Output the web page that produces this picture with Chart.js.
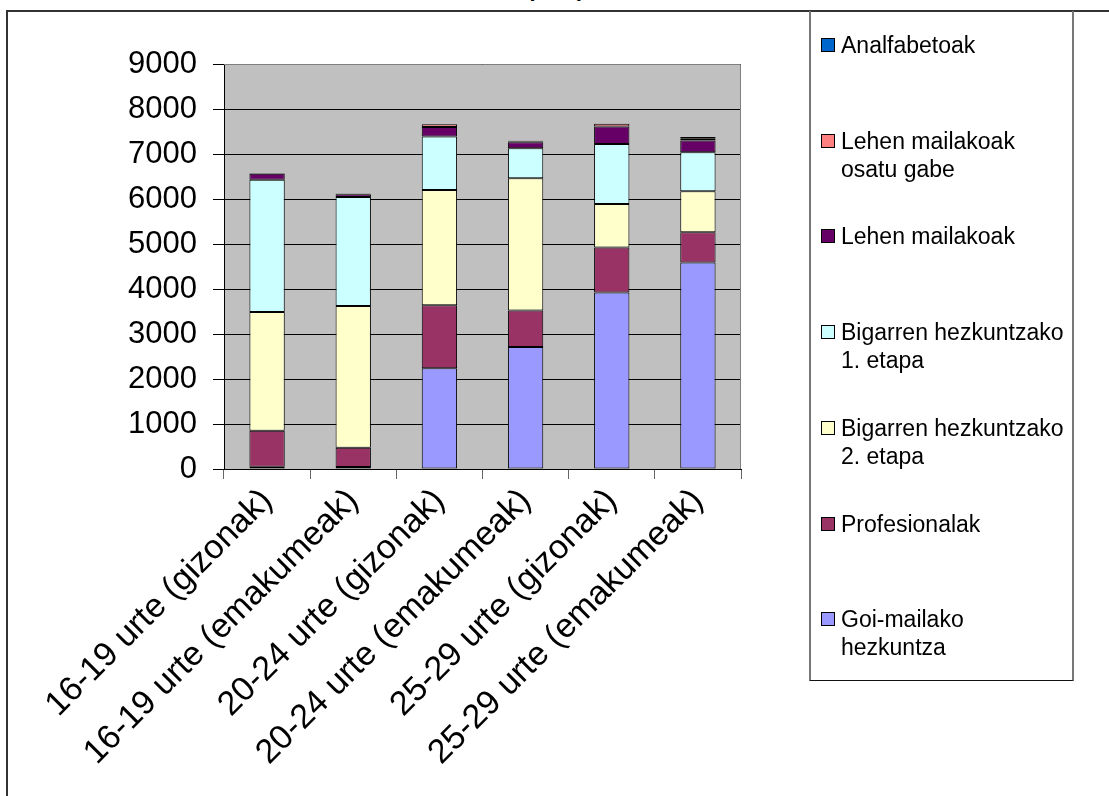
<!DOCTYPE html>
<html>
<head>
<meta charset="utf-8">
<script src="https://cdn.jsdelivr.net/npm/chart.js@4/dist/chart.umd.min.js"></script>
<style>
  html, body { margin: 0; padding: 0; background: #fff; }
  #wrap { position: relative; width: 1109px; height: 796px; overflow: hidden; font-family: "Liberation Sans", Arial, sans-serif; }
  #frame { position: absolute; left: 6px; top: 10px; width: 1200px; height: 900px; border-top: 2px solid #333; border-left: 2px solid #333; }
  #chart { position: absolute; left: 0; top: 0; }
  #title { position: absolute; top: -24px; left: 527px; font-weight: bold; font-size: 22px; white-space: pre; }
  #legend { position: absolute; left: 809px; top: 11px; width: 261px; height: 669px; border-left: 2px solid #777; border-right: 2px solid #777; border-bottom: 1px solid #111; }
  .item { position: absolute; left: 30px; font-size: 23px; line-height: 28px; white-space: pre-line; color: #000; }
  .swatch { position: absolute; left: -20px; top: 7px; width: 12px; height: 12px; border: 1px solid #000; }
</style>
</head>
<body>
<div id="wrap">
  <div id="title">(       )</div>
  <div id="frame"></div>
  <canvas id="chart" width="1109" height="796"></canvas>
  <div id="legend"></div>
</div>
<script>
// categories and stacked series
const categories = [
  "16-19 urte (gizonak)",
  "16-19 urte (emakumeak)",
  "20-24 urte (gizonak)",
  "20-24 urte (emakumeak)",
  "25-29 urte (gizonak)",
  "25-29 urte (emakumeak)"
]
const goiMailako     = [50, 45, 2240, 2710, 3920, 4590]
const profesionalak  = [800, 430, 1400, 810, 1000, 670]
const bigarren2      = [2640, 3150, 2560, 2940, 970, 910]
const bigarren1      = [2940, 2420, 1190, 670, 1330, 870]
const lehenMailakoak = [130, 60, 210, 130, 390, 260]
const lehenOsatuGabe = [10, 10, 60, 20, 60, 40]
const analfabetoak   = [0, 10, 0, 15, 0, 40]
const yTicks = [0, 1000, 2000, 3000, 4000, 5000, 6000, 7000, 8000, 9000]

// bottom of the stack first
const series = [
  { label: "Goi-mailako\nhezkuntza", data: goiMailako, color: "#9999ff" },
  { label: "Profesionalak", data: profesionalak, color: "#993366" },
  { label: "Bigarren hezkuntzako\n2. etapa", data: bigarren2, color: "#ffffcc" },
  { label: "Bigarren hezkuntzako\n1. etapa", data: bigarren1, color: "#ccffff" },
  { label: "Lehen mailakoak", data: lehenMailakoak, color: "#660066" },
  { label: "Lehen mailakoak\nosatu gabe", data: lehenOsatuGabe, color: "#ff8080" },
  { label: "Analfabetoak", data: analfabetoak, color: "#0066cc" }
]

// grey plot background + grey frame on top/right
const plotBackground = {
  id: "plotBackground",
  beforeDraw(chart) {
    const { ctx, chartArea: a } = chart
    ctx.save()
    ctx.fillStyle = "#c0c0c0"
    ctx.fillRect(a.left, a.top, a.width, a.height)
    ctx.restore()
  },
  beforeDatasetsDraw(chart) {
    const { ctx, chartArea: a } = chart
    ctx.save()
    ctx.strokeStyle = "#808080"
    ctx.lineWidth = 1
    ctx.beginPath()
    ctx.moveTo(a.left, a.top + 0.5)
    ctx.lineTo(a.right - 0.5, a.top + 0.5)
    ctx.lineTo(a.right - 0.5, a.bottom)
    ctx.stroke()
    ctx.restore()
  }
}

Chart.defaults.font.family = "'Liberation Sans', Arial, sans-serif"
Chart.defaults.color = "#000"

const chart = new Chart(document.getElementById("chart"), {
  type: "bar",
  data: {
    labels: categories,
    datasets: series.map(s => ({
      label: s.label,
      data: s.data,
      backgroundColor: s.color,
      borderColor: "#000",
      borderWidth: 1,
      borderSkipped: false,
      categoryPercentage: 1,
      barPercentage: 0.41
    }))
  },
  options: {
    responsive: false,
    animation: false,
    layout: { padding: { top: 64, right: 368, left: 0, bottom: 0 } },
    plugins: {
      legend: { display: false },
      title: { display: false },
      tooltip: { enabled: false }
    },
    scales: {
      x: {
        stacked: true,
        afterFit(axis) { axis.height = 327 },
        grid: { offset: true, drawOnChartArea: false, drawTicks: true, tickLength: 10, color: "#666" },
        border: { color: "#000", width: 1 },
        ticks: { font: { size: 34 }, color: "#000", maxRotation: 45, minRotation: 45, padding: 2, autoSkip: false }
      },
      y: {
        stacked: true,
        min: 0,
        max: 9000,
        afterFit(axis) { axis.width = 224 },
        afterBuildTicks(axis) { axis.ticks = yTicks.map(v => ({ value: v })) },
        grid: { color: "#000", tickLength: 11 },
        border: { color: "#000", width: 1 },
        ticks: { font: { size: 31 }, color: "#000", padding: 16, callback: v => String(v) }
      }
    }
  },
  plugins: [plotBackground]
})

// legend box, top entry = top of the stack
const legend = document.getElementById("legend")
chart.data.datasets.slice().reverse().forEach((ds, i) => {
  const item = document.createElement("div")
  item.className = "item"
  item.style.top = (20 + i * 95.7) + "px"
  const sw = document.createElement("span")
  sw.className = "swatch"
  sw.style.background = ds.backgroundColor
  item.appendChild(sw)
  item.appendChild(document.createTextNode(ds.label))
  legend.appendChild(item)
})
</script>
</body>
</html>
